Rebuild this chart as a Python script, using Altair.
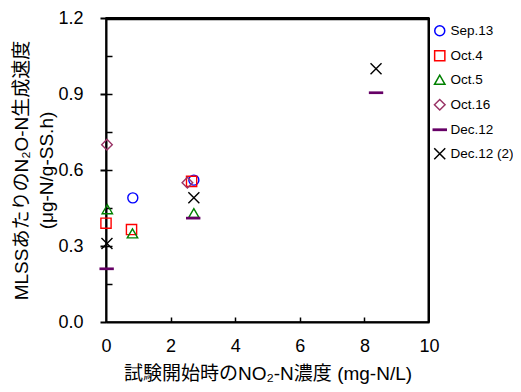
import altair as alt
import pandas as pd

series = ["Sep.13", "Oct.4", "Oct.5", "Oct.16", "Dec.12", "Dec.12 (2)"]
colors = ["#0000FF", "#FF0000", "#008000", "#993366", "#660066", "#000000"]
shapes = ["circle", "square", "triangle-up", "diamond",
          "M-1.2,-0.12H1.2V0.12H-1.2Z", "M-1,-1L1,1M1,-1L-1,1"]
sizes = [100, 121, 190, 210, 121, 121]

sep13_x = [0.83, 2.72]
sep13_y = [0.49, 0.56]
oct4_x = [0.0, 0.79, 2.65]
oct4_y = [0.39, 0.365, 0.555]
oct5_x = [0.04, 0.82, 2.72]
oct5_y = [0.445, 0.35, 0.43]
oct16_x = [0.03, 2.52]
oct16_y = [0.70, 0.55]
dec12_x = [0.02, 2.70, 8.36]
dec12_y = [0.21, 0.41, 0.905]
dec12b_x = [0.03, 2.72, 8.36]
dec12b_y = [0.31, 0.49, 1.0]

x_min, x_max = 0, 10
y_min, y_max = 0, 1.2

xs = [sep13_x, oct4_x, oct5_x, oct16_x, dec12_x, dec12b_x]
ys = [sep13_y, oct4_y, oct5_y, oct16_y, dec12_y, dec12b_y]
rows = []
for name, xl, yl in zip(series, xs, ys):
    for xv, yv in zip(xl, yl):
        rows.append({"series": name, "x": xv, "y": yv})
df = pd.DataFrame(rows)

FONT = "Liberation Sans, Arial, 'Noto Sans CJK JP', sans-serif"
xscale = alt.Scale(domain=[x_min, x_max], nice=False, zero=True)
yscale = alt.Scale(domain=[y_min, y_max], nice=False, zero=True)

points = alt.Chart(df).mark_point(filled=False, strokeWidth=1.4, opacity=1).encode(
    x=alt.X("x:Q", scale=xscale,
            axis=alt.Axis(orient="bottom", values=[0, 2, 4, 6, 8, 10], format="d",
                          ticks=False, labelPadding=15, labelFlush=False,
                          domainColor="black",
                          domainWidth=2, labelFontSize=18, labelColor="black",
                          title="試験開始時のNO₂-N濃度 (mg-N/L)", titleFontSize=19,
                          titleFontWeight="normal", titlePadding=9, titleColor="black",
                          grid=False, labelFont=FONT, titleFont=FONT)),
    y=alt.Y("y:Q", scale=yscale,
            axis=alt.Axis(orient="left", values=[0, 0.3, 0.6, 0.9, 1.2], format=".1f",
                          tickSize=6, tickWidth=2, tickColor="black", labelPadding=17,
                          labelFlush=False,
                          domainColor="black", domainWidth=2, labelFontSize=18,
                          labelColor="black",
                          title=["MLSSあたりのN₂O-N生成速度", "(μg-N/g-SS.h)"],
                          titleFontSize=19, titleFontWeight="normal", titlePadding=1,
                          titleLineHeight=25, titleColor="black", grid=False,
                          labelFont=FONT, titleFont=FONT)),
    color=alt.Color("series:N", scale=alt.Scale(domain=series, range=colors),
                    legend=alt.Legend(title=None, orient="none", legendX=327, legendY=6)),
    shape=alt.Shape("series:N", scale=alt.Scale(domain=series, range=shapes),
                    legend=alt.Legend(title=None, orient="none", legendX=327, legendY=6)),
    size=alt.Size("series:O", scale=alt.Scale(domain=series, range=sizes), legend=None),
)

# inward ticks (bottom and left) via offset axes
ticks = alt.Chart(df).mark_point(opacity=0).encode(
    x=alt.X("x:Q", scale=xscale,
            axis=alt.Axis(orient="top", offset=-304, values=[2, 4, 6, 8], labels=False,
                          domain=False, tickSize=5, tickWidth=1.5, tickColor="black",
                          title=None, grid=False)),
    y=alt.Y("y:Q", scale=yscale,
            axis=alt.Axis(orient="right", offset=-323,
                          values=[0.15, 0.3, 0.45, 0.6, 0.75, 0.9, 1.05],
                          labels=False, domain=False, tickSize=6, tickWidth=1.5,
                          tickColor="black", title=None, grid=False)),
)

# frame (top and right) via offset axes moved to the opposite edges
frame = alt.Chart(df).mark_point(opacity=0).encode(
    x=alt.X("x:Q", scale=xscale,
            axis=alt.Axis(orient="bottom", offset=-303, ticks=False, labels=False,
                          domain=True, domainColor="black", domainWidth=1.5,
                          title=None, grid=False)),
    y=alt.Y("y:Q", scale=yscale,
            axis=alt.Axis(orient="left", offset=-322, ticks=False, labels=False,
                          domain=True, domainColor="black", domainWidth=2,
                          title=None, grid=False)),
)

top_edge = alt.Chart(df).transform_calculate(
    fx0=str(x_min), fx1=str(x_max), fy1=str(y_max)
).mark_rule(color="black", strokeWidth=1.5).encode(
    x=alt.X("fx0:Q", scale=xscale, axis=None), x2="fx1:Q",
    y=alt.Y("fy1:Q", scale=yscale, axis=None),
)
right_edge = alt.Chart(df).transform_calculate(
    fx1=str(x_max), fy0=str(y_min), fy1=str(y_max)
).mark_rule(color="black", strokeWidth=2).encode(
    x=alt.X("fx1:Q", scale=xscale, axis=None),
    y=alt.Y("fy0:Q", scale=yscale, axis=None), y2="fy1:Q",
)

chart = alt.layer(points, ticks, frame, top_edge, right_edge).resolve_axis(
    x="independent", y="independent"
).properties(
    width=323, height=304,
    autosize=alt.AutoSizeParams(type="none"),
    padding={"left": 98, "top": 10, "right": 84, "bottom": 62},
).configure_view(
    stroke="black", strokeWidth=1.5
).configure_legend(
    labelFont=FONT, labelFontSize=13.5, labelColor="black", symbolSize=64,
    symbolStrokeWidth=1.5, rowPadding=8, labelOffset=4
)

chart.save("out.html", embed_options={"renderer": "svg", "actions": False})
